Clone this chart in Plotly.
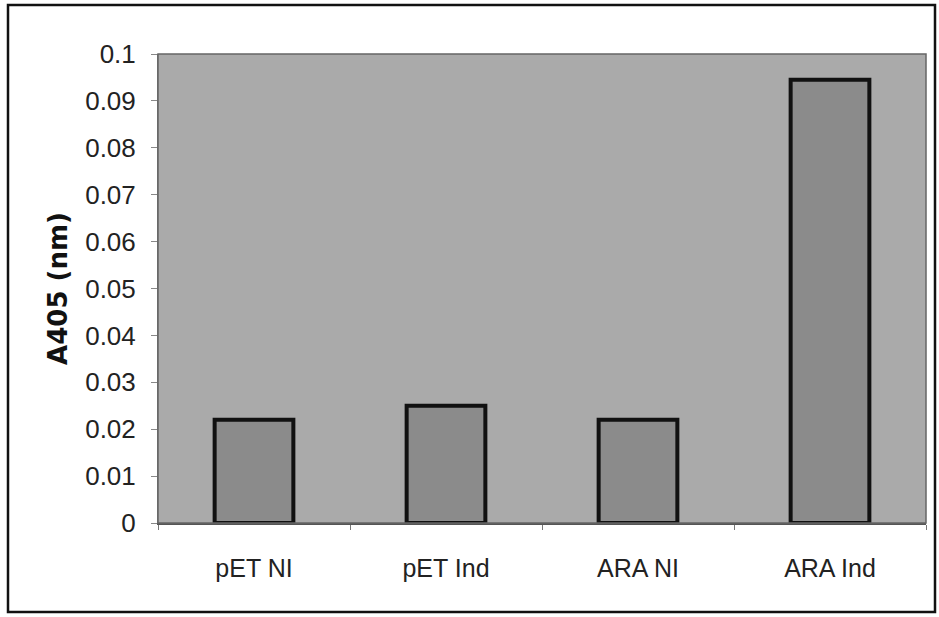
import plotly.graph_objects as go

categories = ["pET NI", "pET Ind", "ARA NI", "ARA Ind"]
values = [0.022, 0.025, 0.022, 0.0945]
y_ticks = [0, 0.01, 0.02, 0.03, 0.04, 0.05, 0.06, 0.07, 0.08, 0.09, 0.1]
y_tick_labels = ["0", "0.01", "0.02", "0.03", "0.04", "0.05", "0.06", "0.07", "0.08", "0.09", "0.1"]

W, H = 939, 617
L, R, T, B = 158, 13, 54, 94
pw, ph = W - L - R, H - T - B

def px(x):
    return (x - L) / pw

def py(y):
    return (H - B - y) / ph

fig = go.Figure()
fig.add_trace(go.Bar(
    x=categories, y=values,
    marker=dict(color="#8b8b8b", line=dict(color="#111111", width=4)),
    width=0.41,
))

fig.update_layout(
    width=W, height=H,
    margin=dict(l=L, r=R, t=T, b=B),
    paper_bgcolor="white",
    plot_bgcolor="#aaaaaa",
    showlegend=False,
    font=dict(family="Liberation Sans, Arial, sans-serif", color="#222222"),
    xaxis=dict(
        tickson="boundaries", ticks="outside", ticklen=5, tickcolor="#777777",
        showline=True, linecolor="#555555", linewidth=2,
        tickfont=dict(size=25), showgrid=False,
        ticklabelstandoff=22,
    ),
    yaxis=dict(
        range=[0, 0.1], tickvals=y_ticks, ticktext=y_tick_labels,
        ticks="outside", ticklen=6, tickcolor="#888888",
        showgrid=False, zeroline=False,
        showline=True, linecolor="#777777", linewidth=1,
        tickfont=dict(size=26), ticklabelstandoff=10,
        title=dict(text="<b>A405 (nm)</b>",
                   font=dict(size=26, family="DejaVu Sans, sans-serif", color="#111111"),
                   standoff=10),
    ),
    shapes=[
        dict(type="rect", xref="paper", yref="paper",
             x0=px(8), x1=px(935), y0=py(612), y1=py(5),
             line=dict(color="#111111", width=2.5), fillcolor="rgba(0,0,0,0)", layer="below"),
        dict(type="rect", xref="paper", yref="paper",
             x0=0, x1=1, y0=0, y1=1,
             line=dict(color="#666666", width=1.5), fillcolor="rgba(0,0,0,0)"),
    ],
)

fig.write_html("out.html", config={"displayModeBar": False},
               post_script="document.body.style.margin='0';")
